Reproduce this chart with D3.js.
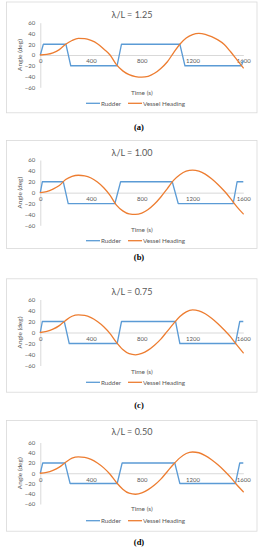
<!DOCTYPE html>
<html>
<head>
<meta charset="utf-8">
<script src="https://cdn.jsdelivr.net/npm/d3@7"></script>
<style>
  body { margin: 0; background: #fff; }
  svg { display: block; }
  text { font-family: Lato, "Open Sans", sans-serif; fill: #595959; }
  .tick text { font-size: 6px; }
  .caption { font-family: "Liberation Serif", serif; font-weight: bold; fill: #000; font-size: 8.5px; }
</style>
</head>
<body>
<div id="chart"></div>
<script>
// DATA
const titles = ["λ/L = 1.25", "λ/L = 1.00", "λ/L = 0.75", "λ/L = 0.50"];
const captions = ["(a)", "(b)", "(c)", "(d)"];
const xTicks = [0, 400, 800, 1200, 1600];
const yTicks = [-60, -40, -20, 0, 20, 40, 60];
const seriesNames = ["Rudder", "Vessel Heading"];

// vessel heading sampled every 50 s
const headingTime = [0, 50, 100, 150, 200, 250, 300, 350, 400, 450, 500, 550, 600, 650, 700, 750, 800,
  850, 900, 950, 1000, 1050, 1100, 1150, 1200, 1250, 1300, 1350, 1400, 1450, 1500, 1550, 1600];
const headingA = [0, 1, 4, 10, 20, 27, 31, 30.5, 27, 21, 11, 0, -18, -29.5, -36.5, -40, -41,
  -39.5, -34, -25, -13, 4, 20, 31.5, 38, 40.3, 38.5, 34, 28, 19.5, 6, -9, -24];
const headingB = [0, 2, 6.5, 13, 24, 30, 32, 31, 27, 19.5, 9, -5, -23, -33.5, -39, -40, -37.5,
  -31, -21, -8, 7, 22.5, 33, 39.5, 41.5, 39.5, 34, 25.5, 15, 3, -11, -26, -39];
const headingC = [0, 2, 6, 12.5, 22, 29.5, 32, 31, 27, 20, 10.5, -2, -18, -31, -38.5, -40.5, -38,
  -32, -23, -12, 2, 16, 29, 37.5, 41, 39.5, 34, 26, 16, 4.5, -8, -23, -37];
const headingD = [0, 1.5, 5.5, 12, 21.5, 29.5, 32, 31, 27, 20, 10.5, -2, -18, -31, -39, -41, -38.5,
  -32, -23, -11.5, 3, 17.5, 30, 38.5, 41.5, 40, 34.5, 26.5, 16.5, 5, -8, -23, -36];

// rudder angle at its corner points
const rudderTimeA = [0, 24, 202, 240, 605, 640, 1100, 1140, 1585, 1600];
const rudderA = [0, 20, 20, -20, -20, 20, 20, -20, -20, -10];
const rudderTimeB = [0, 16, 181, 220, 588, 633, 1040, 1087, 1520, 1551, 1600];
const rudderB = [0, 20, 20, -20, -20, 20, 20, -20, -20, 20, 20];
const rudderTimeC = [0, 16, 189, 228, 606, 640, 1066, 1100, 1538, 1572, 1600];
const rudderC = [0, 20, 20, -20, -20, 20, 20, -20, -20, 20, 20];
const rudderTimeD = [0, 19, 195, 235, 606, 645, 1060, 1100, 1538, 1572, 1600];
const rudderD = [0, 20, 20, -20, -20, 20, 20, -20, -20, 20, 20];

const headings = [headingA, headingB, headingC, headingD];
const rudderTimes = [rudderTimeA, rudderTimeB, rudderTimeC, rudderTimeD];
const rudders = [rudderA, rudderB, rudderC, rudderD];

// LAYOUT (page coordinates of each panel)
const panels = [
  {top: 1.5, bottom: 113.3, title: 15, y60: 22.7, yM60: 87.3, time: 92.5, legend: 103.3, caption: 127},
  {top: 140, bottom: 249, title: 152.7, y60: 160, yM60: 225.3, time: 229.5, legend: 240.7, caption: 257},
  {top: 278.3, bottom: 392.7, title: 292, y60: 299.5, yM60: 365.5, time: 372, legend: 382.3, caption: 405},
  {top: 420, bottom: 531.7, title: 432.3, y60: 442.5, yM60: 504, time: 509, legend: 520.7, caption: 542}
];

const colors = {rudder: "#5B9BD5", heading: "#ED7D31", axis: "#d9d9d9"};
const frameLeft = 6, frameRight = 257.5;
const plotLeft = 40.3, plotRight = 243.3;

const svg = d3.select("#chart")
  .append("svg")
  .attr("width", 260)
  .attr("height", 550);

const xScale = d3.scaleLinear()
  .domain([0, 1600])
  .range([plotLeft, plotRight]);

panels.forEach((p, i) => {
  const g = svg.append("g");

  // chart frame
  g.append("rect")
    .attr("x", frameLeft + 0.5)
    .attr("y", p.top + 0.5)
    .attr("width", frameRight - frameLeft - 1)
    .attr("height", p.bottom - p.top - 1)
    .attr("fill", "#fff")
    .attr("stroke", colors.axis)
    .attr("stroke-width", 0.8);

  const yScale = d3.scaleLinear()
    .domain([-60, 60])
    .range([p.yM60, p.y60]);

  // y axis
  const yAxis = g.append("g")
    .attr("transform", `translate(${plotLeft}, 0)`)
    .call(d3.axisLeft(yScale).tickValues(yTicks).tickSize(0).tickPadding(5));
  yAxis.select(".domain").attr("stroke", colors.axis);
  yAxis.selectAll("text").attr("fill", "#6b6b6b");

  // x axis crossing at 0
  const xAxis = g.append("g")
    .attr("transform", `translate(0, ${yScale(0)})`)
    .call(d3.axisBottom(xScale).tickValues(xTicks).tickFormat(d3.format("d")).tickSize(0).tickPadding(4));
  xAxis.select(".domain").attr("stroke", colors.axis);
  xAxis.selectAll("text").attr("fill", "#6b6b6b");

  // rudder
  const rudderData = rudderTimes[i].map((t, j) => ({t: t, v: rudders[i][j]}));
  g.append("path")
    .datum(rudderData)
    .attr("fill", "none")
    .attr("stroke", colors.rudder)
    .attr("stroke-width", 1.3)
    .attr("stroke-linejoin", "round")
    .attr("d", d3.line().x(d => xScale(d.t)).y(d => yScale(d.v)));

  // heading
  const headingData = headingTime.map((t, j) => ({t: t, v: headings[i][j]}));
  g.append("path")
    .datum(headingData)
    .attr("fill", "none")
    .attr("stroke", colors.heading)
    .attr("stroke-width", 1.3)
    .attr("stroke-linecap", "round")
    .attr("d", d3.line().curve(d3.curveMonotoneX).x(d => xScale(d.t)).y(d => yScale(d.v)));

  // title
  g.append("text")
    .attr("x", 132)
    .attr("y", p.title)
    .attr("dy", "0.35em")
    .attr("text-anchor", "middle")
    .attr("font-size", "9px")
    .text(titles[i]);

  // axis titles
  g.append("text")
    .attr("transform", `translate(20, ${(p.y60 + p.yM60) / 2})rotate(-90)`)
    .attr("dy", "0.35em")
    .attr("text-anchor", "middle")
    .attr("font-size", "6.5px")
    .text("Angle (deg)");

  g.append("text")
    .attr("x", (plotLeft + plotRight) / 2)
    .attr("y", p.time)
    .attr("dy", "0.35em")
    .attr("text-anchor", "middle")
    .attr("font-size", "6.5px")
    .text("Time (s)");

  // legend
  const legend = g.append("g").attr("transform", `translate(0, ${p.legend})`);
  const legendItems = [
    {name: seriesNames[0], color: colors.rudder, x1: 86, x2: 100, tx: 101},
    {name: seriesNames[1], color: colors.heading, x1: 128, x2: 142, tx: 143}
  ];
  legendItems.forEach(item => {
    legend.append("line")
      .attr("x1", item.x1).attr("x2", item.x2)
      .attr("y1", 0).attr("y2", 0)
      .attr("stroke", item.color)
      .attr("stroke-width", 1.3);
    legend.append("text")
      .attr("x", item.tx)
      .attr("dy", "0.35em")
      .attr("font-size", "6.3px")
      .text(item.name);
  });

  // caption below panel
  svg.append("text")
    .attr("class", "caption")
    .attr("x", 139)
    .attr("y", p.caption)
    .attr("dy", "0.35em")
    .attr("text-anchor", "middle")
    .text(captions[i]);
});
</script>
</body>
</html>
